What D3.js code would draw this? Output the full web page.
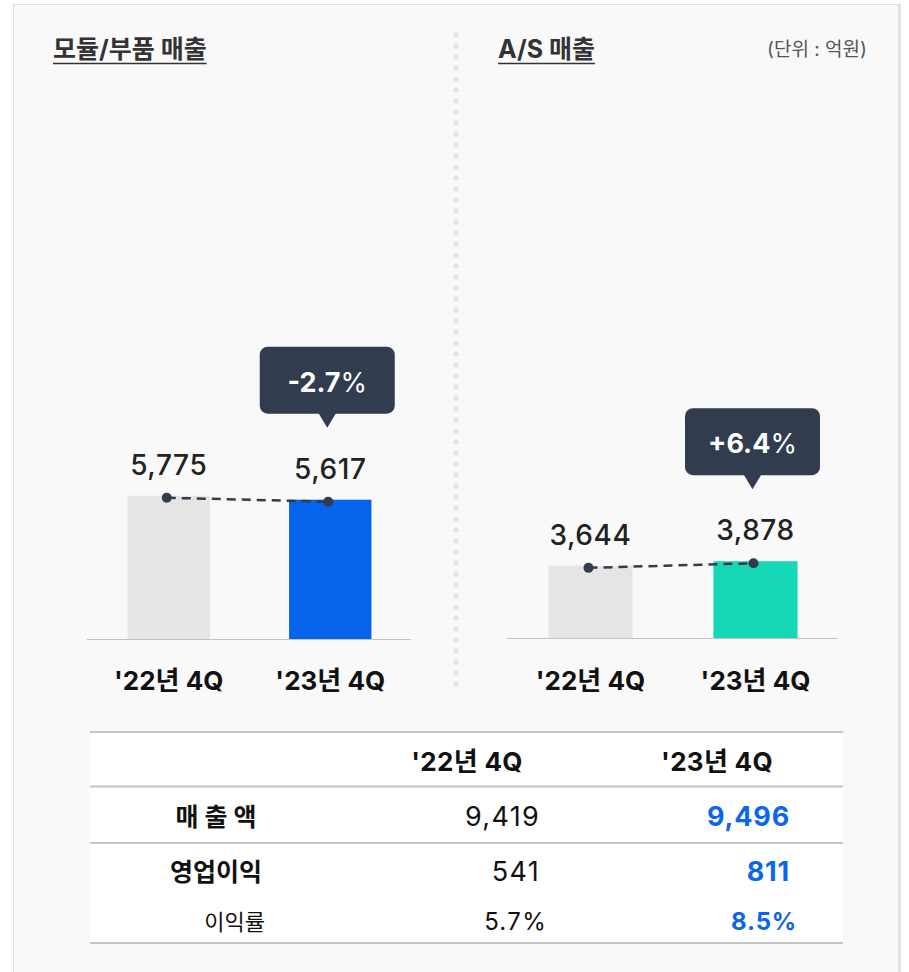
<html lang="ko">
  <head>
    <meta charset="utf-8" />
    <title>모듈/부품 · A/S 매출</title>
    <style>
     body {
       margin: 0;
       background: #ffffff;
       font-family: Inter, "Noto Sans CJK KR", sans-serif;
     }
    </style>
  </head>
  <body>
    <div id="chart"></div>

    <script src="https://cdn.jsdelivr.net/npm/d3@7/dist/d3.min.js"></script>
    <script>

     // ---- data ----
     var periods = ["'22년 4Q", "'23년 4Q"];
     var moduleSales = [5775, 5617];
     var asSales = [3644, 3878];
     var moduleChange = "-2.7";
     var asChange = "+6.4";

     var rowLabels = ["매 출 액", "영업이익", "이익률"];
     var revenue = [9419, 9496];
     var opProfit = [541, 811];
     var margin = [5.7, 8.5];

     var fmt = d3.format(",");
     var W = 909, H = 972;
     var dark = "#323c4f";

     var svg = d3.select("#chart")
                 .append("svg")
                 .attr("width", W)
                 .attr("height", H);

     // frame
     svg.append("rect")
        .attr("x", 13.5).attr("y", 4.5)
        .attr("width", 885).attr("height", 990)
        .attr("fill", "#f9f9f9")
        .attr("stroke", "#e0e0e0");
     svg.append("rect")
        .attr("x", 898).attr("y", 4)
        .attr("width", 3).attr("height", 990)
        .attr("fill", "#e2e2e2");

     // dotted divider
     var dotY = d3.range(35, 685, 11);
     svg.selectAll(".divdot")
        .data(dotY)
        .enter().append("circle")
        .attr("class", "divdot")
        .attr("cx", 456)
        .attr("cy", function(d) { return d; })
        .attr("r", 2.6)
        .attr("fill", "#e4e4e4");

     // unit
     svg.append("text")
        .attr("x", 867).attr("y", 56)
        .attr("text-anchor", "end")
        .attr("font-size", 19)
        .attr("fill", "#555")
        .text("(단위 : 억원)");

     var panels = [
       {title: "모듈/부품 매출", tx: 53, values: moduleSales, change: moduleChange,
        color: "#0563ec", x0: 88, x1: 411, base: 639, top: 391},
       {title: "A/S 매출", tx: 498, values: asSales, change: asChange,
        color: "#17d8b6", x0: 508, x1: 838, base: 638, top: 440}
     ];

     panels.forEach(function(p) {
       var g = svg.append("g");

       var t = g.append("text")
          .attr("x", p.tx).attr("y", 58)
          .attr("font-size", 25)
          .attr("font-weight", 700)
          .attr("fill", "#333")
          .text(p.title);
       var tw = t.node().getComputedTextLength();
       g.append("line")
        .attr("x1", p.tx).attr("x2", p.tx + tw)
        .attr("y1", 63.5).attr("y2", 63.5)
        .attr("stroke", "#333").attr("stroke-width", 1.5);

       var x = d3.scaleBand()
                 .domain(periods)
                 .range([p.x0, p.x1])
                 .paddingInner(0.49)
                 .paddingOuter(0.245);
       var y = d3.scaleLinear()
                 .domain([0, 10000])
                 .range([p.base, p.top]);

       var cx = function(d, i) { return x(periods[i]) + x.bandwidth() / 2; };

       g.selectAll(".bar")
        .data(p.values)
        .enter().append("rect")
        .attr("x", function(d, i) { return x(periods[i]); })
        .attr("y", function(d) { return y(d); })
        .attr("width", x.bandwidth())
        .attr("height", function(d) { return p.base - y(d); })
        .attr("fill", function(d, i) { return i === 0 ? "#e5e5e5" : p.color; });

       // baseline
       g.append("line")
        .attr("x1", p.x0 - 1).attr("x2", p.x1)
        .attr("y1", p.base + 0.5).attr("y2", p.base + 0.5)
        .attr("stroke", "#c4c4c4").attr("stroke-width", 1.2);

       // x labels
       g.selectAll(".xl")
        .data(periods)
        .enter().append("text")
        .attr("x", function(d) { return x(d) + x.bandwidth() / 2; })
        .attr("y", 690)
        .attr("text-anchor", "middle")
        .attr("font-size", 26)
        .attr("font-weight", 700)
        .attr("fill", "#111")
        .text(function(d) { return d; });

       // values
       g.selectAll(".vl")
        .data(p.values)
        .enter().append("text")
        .attr("x", cx)
        .attr("y", function(d) { return y(d) - 21; })
        .attr("text-anchor", "middle")
        .attr("font-size", 28)
        .attr("font-weight", 500)
        .attr("letter-spacing", 0.6)
        .attr("fill", "#222")
        .text(function(d) { return fmt(d); });

       // dashed trend
       var pts = p.values.map(function(d, i) { return [cx(d, i) - 2, y(d) + 2]; });
       g.append("path")
        .attr("d", d3.line()(pts))
        .attr("fill", "none")
        .attr("stroke", dark)
        .attr("stroke-width", 2.5)
        .attr("stroke-dasharray", "9,6");
       g.selectAll(".pt")
        .data(pts)
        .enter().append("circle")
        .attr("cx", function(d) { return d[0]; })
        .attr("cy", function(d) { return d[1]; })
        .attr("r", 5)
        .attr("fill", dark);

       // callout over latest bar
       var last = p.values[1];
       var bx = cx(last, 1) - 3;
       var bb = y(last) - 86;
       var bw = 135, bh = 67;
       g.append("rect")
        .attr("x", bx - bw / 2).attr("y", bb - bh)
        .attr("width", bw).attr("height", bh)
        .attr("rx", 8)
        .attr("fill", dark);
       g.append("path")
        .attr("d", "M" + (bx - 9) + "," + (bb - 1) + "L" + (bx + 9) + "," + (bb - 1) + "L" + bx + "," + (bb + 14) + "Z")
        .attr("fill", dark);
       var ct = g.append("text")
        .attr("x", bx).attr("y", bb - 22)
        .attr("text-anchor", "middle")
        .attr("font-size", 27)
        .attr("font-weight", 700)
        .attr("fill", "#fff");
       ct.append("tspan").text(p.change);
       ct.append("tspan").attr("font-weight", 400).text("%");
     });

     // ---- table ----
     var tb = svg.append("g");
     tb.append("rect")
       .attr("x", 90).attr("y", 732)
       .attr("width", 753).attr("height", 211)
       .attr("fill", "#fff");
     [732, 786.5, 843, 943].forEach(function(ly) {
       tb.append("line")
         .attr("x1", 90).attr("x2", 843)
         .attr("y1", ly).attr("y2", ly)
         .attr("stroke", "#c4c4c4").attr("stroke-width", 2);
     });

     var colX = d3.scalePoint().domain(periods).range([467, 717]);
     tb.selectAll(".th")
       .data(periods)
       .enter().append("text")
       .attr("x", function(d) { return colX(d); })
       .attr("y", 771)
       .attr("text-anchor", "middle")
       .attr("font-size", 26)
       .attr("font-weight", 700)
       .attr("letter-spacing", 0.3)
       .attr("fill", "#111")
       .text(function(d) { return d; });

     var rows = [
       {label: rowLabels[0], vals: revenue.map(fmt), y: 826, bold: true, size: 27, lx: 216, anchor: "middle", dx: 0},
       {label: rowLabels[1], vals: opProfit.map(fmt), y: 881, bold: true, size: 27, lx: 216, anchor: "middle", dx: 0},
       {label: rowLabels[2], vals: margin.map(function(d) { return d.toFixed(1) + "%"; }), y: 930, bold: false, size: 24, lx: 265, anchor: "end", dx: 7}
     ];
     var valEnd = [540, 790];

     rows.forEach(function(r) {
       tb.append("text")
         .attr("x", r.lx).attr("y", r.y)
         .attr("text-anchor", r.anchor)
         .attr("font-size", r.bold ? 25 : 22)
         .attr("font-weight", r.bold ? 700 : 400)
         .attr("fill", "#111")
         .text(r.label);
       tb.selectAll(null)
         .data(r.vals)
         .enter().append("text")
         .attr("x", function(d, i) { return valEnd[i] + r.dx; })
         .attr("y", r.y)
         .attr("text-anchor", "end")
         .attr("font-size", r.size)
         .attr("font-weight", function(d, i) { return i === 1 ? 700 : 400; })
         .attr("letter-spacing", function(d, i) { return i === 1 ? 0.8 : 1.3; })
         .attr("fill", function(d, i) { return i === 1 ? "#0a66ea" : "#111"; })
         .text(function(d) { return d; });
     });

    </script>
  </body>
</html>
